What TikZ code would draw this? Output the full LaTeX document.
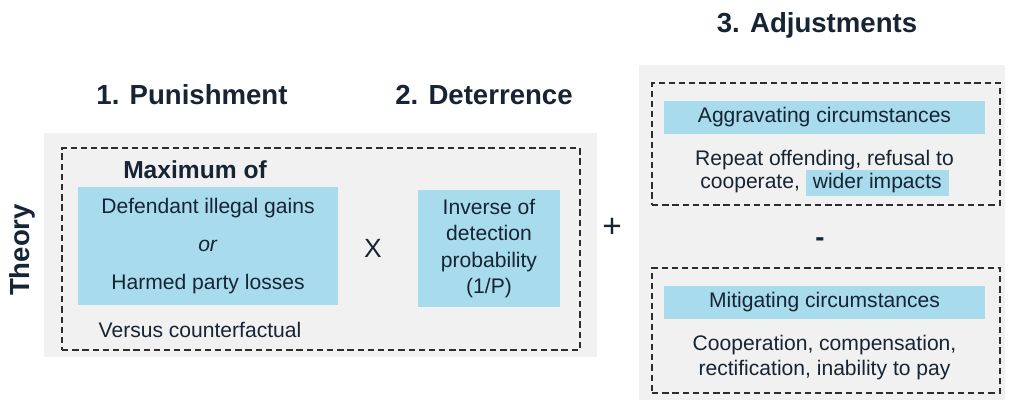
\documentclass[tikz,border=0pt]{standalone}
\usepackage{fontspec}
\setmainfont{Liberation Sans}
\usetikzlibrary{positioning}
\definecolor{panelgray}{RGB}{241,241,241}
\definecolor{boxblue}{RGB}{168,220,236}
\definecolor{textnavy}{RGB}{22,36,52}
\definecolor{dashgray}{RGB}{45,45,45}
\tikzstyle{panel} = [rectangle, fill=panelgray, inner sep=0pt]
\tikzstyle{dashbox} = [rectangle, draw=dashgray, line width=1.1pt, dash pattern=on 3.6pt off 2.2pt, inner sep=0pt]
\tikzstyle{bluebox} = [rectangle, fill=boxblue, inner sep=0pt, align=center, text=textnavy]
\tikzstyle{heading} = [font=\bfseries\fontsize{15.7}{18}\selectfont, text=textnavy]
\tikzstyle{body} = [font=\fontsize{12}{14}\selectfont, text=textnavy, align=center]
\newcommand{\hilite}[1]{{\setlength{\fboxsep}{1.6pt}\colorbox{boxblue}{\hspace{2.4pt}#1\hspace{2.4pt}}}}

\begin{document}
\begin{tikzpicture}[x=0.02cm, y=-0.02cm]
\useasboundingbox (0,0) rectangle (1013,403);
% grey panels
\node[panel, minimum width=11.06cm, minimum height=4.48cm] (leftpanel) at (320.5,245) {};
\node[panel, minimum width=7.34cm, minimum height=6.7cm] (rightpanel) at (822,232.5) {};
% dashed frames
\node[dashbox, minimum width=10.36cm, minimum height=4.04cm] (theoryframe) at (321,249) {};
\node[dashbox, minimum width=6.96cm, minimum height=2.44cm] (aggframe) at (826,144) {};
\node[dashbox, minimum width=6.96cm, minimum height=2.5cm] (mitframe) at (826,330.5) {};

% headings
\node[heading] (punish) at (192,95) {1. Punishment};
\node[heading] (deter) at (484,95) {2. Deterrence};
\node[heading] (adjust) at (817,25) {3. Adjustments};
\node[heading, rotate=90] (theory) at (22,250) {Theory};

% punishment
\node[font=\bfseries\fontsize{14}{16}\selectfont, text=textnavy] (maxof) at (195,170) {Maximum of};
\node[bluebox, minimum width=5.2cm, minimum height=2.36cm, font=\fontsize{12}{21.6}\selectfont] (gains) at (208,246)
  {Defendant illegal gains\\\textit{or}\\Harmed party losses};
\node[body] (versus) at (200,330) {Versus counterfactual};
\node[font=\fontsize{15}{18}\selectfont, text=textnavy] (times) at (373,248) {X};

% deterrence
\node[bluebox, minimum width=2.84cm, minimum height=2.34cm, font=\fontsize{12}{15}\selectfont] (inverse) at (489,248.5)
  {Inverse of\\detection\\probability\\(1/P)};
\node[font=\fontsize{19}{20}\selectfont, text=textnavy] (plus) at (612,228) {+};

% adjustments
\node[bluebox, minimum width=6.42cm, minimum height=0.66cm, font=\fontsize{12}{14}\selectfont] (aggbar) at (824.5,117) {Aggravating circumstances};
\node[body, below=0.2cm of aggbar, font=\fontsize{12}{13.2}\selectfont] (aggtext) {Repeat offending, refusal to\\cooperate, \hilite{wider impacts}};
\node[heading] (minus) at (820,242) {-};
\node[bluebox, minimum width=6.42cm, minimum height=0.66cm, font=\fontsize{12}{14}\selectfont] (mitbar) at (824.5,302) {Mitigating circumstances};
\node[body, below=0.2cm of mitbar, font=\fontsize{12}{14.2}\selectfont] (mittext) {Cooperation, compensation,\\rectification, inability to pay};
\end{tikzpicture}
\end{document}
